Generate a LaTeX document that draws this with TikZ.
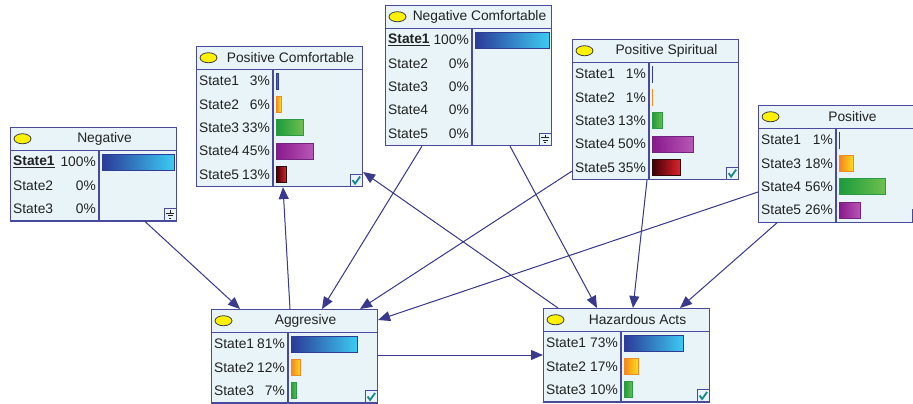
\documentclass[tikz,border=0pt]{standalone}
\usepackage{fontspec}
\setmainfont{Liberation Sans}
\usetikzlibrary{positioning, arrows.meta, calc}

\definecolor{edgeblue}{HTML}{3A3A8C}
\definecolor{boxline}{HTML}{4A4A9C}
\definecolor{boxfill}{HTML}{E8F4F8}
\definecolor{textdark}{HTML}{222222}
\definecolor{checkteal}{HTML}{17878A}
\definecolor{bar1a}{HTML}{2B3A98}\definecolor{bar1b}{HTML}{3CCBF2}\definecolor{bar1l}{HTML}{2E3C96}
\definecolor{bar2a}{HTML}{F58220}\definecolor{bar2b}{HTML}{FFE01A}\definecolor{bar2l}{HTML}{F08A24}
\definecolor{bar3a}{HTML}{1C9A3C}\definecolor{bar3b}{HTML}{6CC04E}\definecolor{bar3l}{HTML}{2A9A44}
\definecolor{bar4a}{HTML}{88198C}\definecolor{bar4b}{HTML}{B856B6}\definecolor{bar4l}{HTML}{74247E}
\definecolor{bar5a}{HTML}{3C0004}\definecolor{bar5b}{HTML}{E4222C}\definecolor{bar5l}{HTML}{2A0A0A}

\tikzset{
  netbox/.style={rectangle, draw=boxline, fill=boxfill, line width=1.1pt,
                 minimum width=166pt, anchor=north west, inner sep=0pt},
  boxedge/.style={draw=boxline, line width=1.1pt},
  statetext/.style={font=\fontsize{13.8}{16}\selectfont, text=textdark, inner sep=0pt},
  link/.style={-{Triangle[length=12pt,width=10pt]}, draw=edgeblue, fill=edgeblue, line width=1pt},
  bar1/.style={draw=bar1l, left color=bar1a, right color=bar1b, line width=0.8pt},
  bar2/.style={draw=bar2l, left color=bar2a, right color=bar2b, line width=0.8pt},
  bar3/.style={draw=bar3l, left color=bar3a, right color=bar3b, line width=0.8pt},
  bar4/.style={draw=bar4l, left color=bar4a, right color=bar4b, line width=0.8pt},
  bar5/.style={draw=bar5l, left color=bar5a, right color=bar5b, line width=0.8pt},
  checkicon/.pic={
    \draw[boxedge, fill=boxfill] (0,0) rectangle (12,12);
    \draw[checkteal, line width=1.8pt] (2.5,6) -- (5,9.5) -- (10,2.5);
  },
  groundicon/.pic={
    \draw[boxedge, fill=boxfill] (0,0) rectangle (12,12);
    \draw[textdark, line width=0.7pt] (6,1.5) -- (6,4.5) (2,4.5) -- (10,4.5)
      (3.5,7) -- (8.5,7) (5,9.5) -- (7,9.5);
  }
}

\newcommand{\evid}[1]{\underline{\textbf{#1}}}

% #1 name, #2 top left, #3 title, #4 divider, #5 rows, #6 label/percent/colour, #7 icon
\newcommand{\netnode}[7]{%
  \node[netbox, minimum height=23.5pt+#5*23.3pt] (#1) at #2 {};
  \draw[boxedge] ($(#1.north west)+(0,23.5)$) -- ($(#1.north east)+(0,23.5)$);
  \draw[boxedge] ($(#1.north west)+(#4,23.5)$) -- ($(#1.south west)+(#4,0)$);
  \draw[fill=yellow, draw=black!75, line width=0.8pt]
    ($(#1.north west)+(12.5,11.75)$) ellipse [x radius=8.5pt, y radius=5pt];
  \node[statetext] at ($(#1.north west)+(94.5,11.75)$) {#3};
  \foreach \lab/\pct/\col [count=\i] in {#6} {
    \pgfmathsetmacro\ry{23.5+(\i-0.5)*23.3}
    \pgfmathsetmacro\bw{min(\pct*0.82,161-#4)}
    \node[statetext, anchor=west] at ($(#1.north west)+(3,\ry)$) {\lab};
    \node[statetext, anchor=east] at ($(#1.north west)+(#4-3,\ry)$) {\pct\%};
    \ifnum\pct>0
      \draw[bar\col] ($(#1.north west)+(#4+3,\ry-8)$) rectangle ++(\bw,16);
    \fi
  }
  \pic at ($(#1.south east)+(-13,-13)$) {#7};
}

\begin{document}
\begin{tikzpicture}[x=1pt, y=-1pt]
  \useasboundingbox (0,0) rectangle (913,404);
  \clip (0,0) rectangle (913,404);

  \netnode{neg}{(10,127)}{Negative}{89}{3}
    {\evid{State1}/100/1, State2/0/2, State3/0/3}{groundicon}
  \netnode{pc}{(196,46)}{Positive Comfortable}{77}{5}
    {State1/3/1, State2/6/2, State3/33/3, State4/45/4, State5/13/5}{checkicon}
  \netnode{nc}{(385,5)}{Negative Comfortable}{87}{5}
    {\evid{State1}/100/1, State2/0/2, State3/0/3, State4/0/4, State5/0/5}{groundicon}
  \netnode{ps}{(572,39)}{Positive Spiritual}{77}{5}
    {State1/1/1, State2/1/2, State3/13/3, State4/50/4, State5/35/5}{checkicon}
  \netnode{pos}{(758,105)}{Positive}{78}{4}
    {State1/1/1, State3/18/2, State4/56/3, State5/26/4}{checkicon}
  \netnode{agg}{(211,309)}{Aggresive}{77}{3}
    {State1/81/1, State2/12/2, State3/7/3}{checkicon}
  \netnode{haz}{(543,308)}{Hazardous Acts}{78}{3}
    {State1/73/1, State2/17/2, State3/10/3}{checkicon}

  \draw[link] ($(neg.south west)+(135,0)$) -- ($(agg.north west)+(29,0)$);
  \draw[link] ($(agg.north west)+(79,0)$) -- ($(pc.south west)+(87,0)$);
  \draw[link] ($(nc.south west)+(37,0)$) -- ($(agg.north west)+(111,0)$);
  \draw[link] ($(nc.south west)+(125,0)$) -- ($(haz.north west)+(54,0)$);
  \draw[link] ($(ps.south west)+(0,-9)$) -- ($(agg.north west)+(149,0)$);
  \draw[link] ($(ps.south west)+(75,0)$) -- ($(haz.north west)+(90,0)$);
  \draw[link] ($(pos.north west)+(0,87)$) -- ($(agg.north east)+(0,11)$);
  \draw[link] ($(pos.south west)+(19,0)$) -- ($(haz.north west)+(137,0)$);
  \draw[link] ($(haz.north west)+(15,0)$) -- ($(pc.north east)+(0,126)$);
  \draw[link] ($(agg.north east)+(0,46)$) -- ($(haz.north west)+(0,47)$);
\end{tikzpicture}
\end{document}
